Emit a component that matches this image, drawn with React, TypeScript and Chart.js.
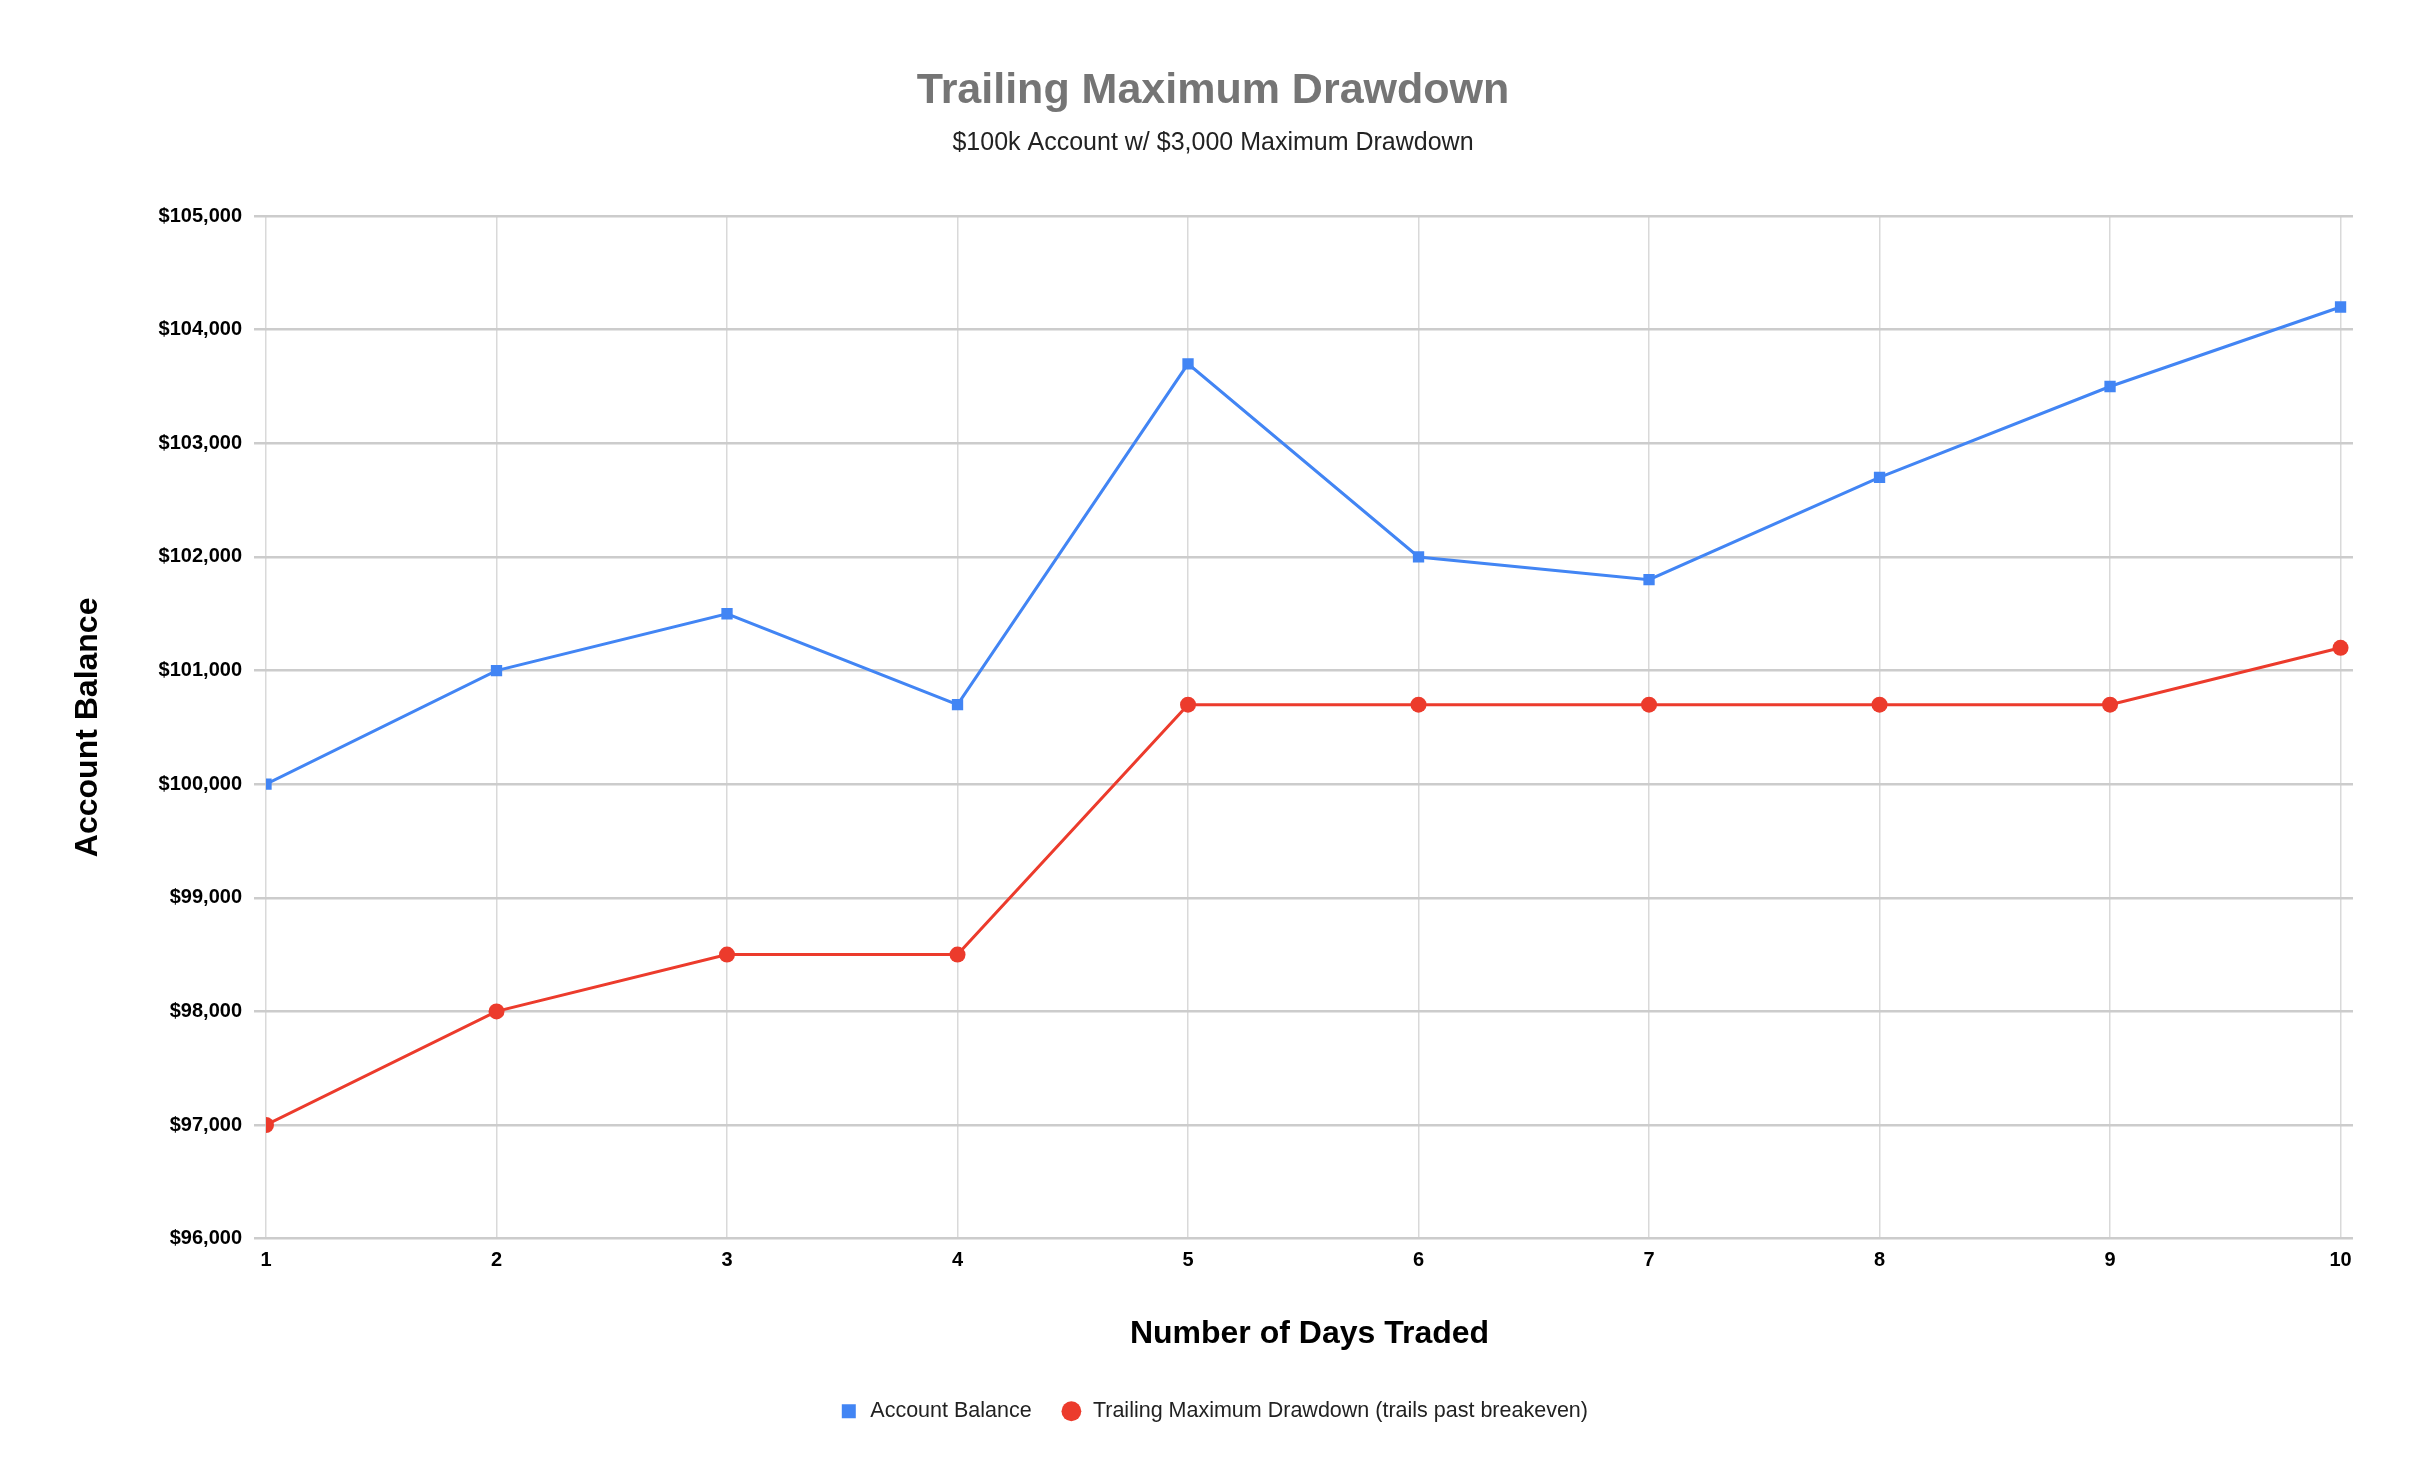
import React, { useEffect, useRef } from 'react';
import { Chart, registerables } from 'chart.js';

Chart.register(...registerables);

const days = [1, 2, 3, 4, 5, 6, 7, 8, 9, 10];
const accountBalance = [100000, 101000, 101500, 100700, 103700, 102000, 101800, 102700, 103500, 104200];
const trailingDrawdown = [97000, 98000, 98500, 98500, 100700, 100700, 100700, 100700, 100700, 101200];
const yTicks = [96000, 97000, 98000, 99000, 100000, 101000, 102000, 103000, 104000, 105000];

const FONT = '"Liberation Sans", Arial, Helvetica, sans-serif';

const App: React.FC = () => {
  const chartRef = useRef<HTMLCanvasElement>(null);
  const chartInstance = useRef<Chart | null>(null);

  useEffect(() => {
    if (!chartRef.current) return;
    if (chartInstance.current) chartInstance.current.destroy();

    const ctx = chartRef.current.getContext('2d');
    if (!ctx) return;

    Chart.defaults.font.family = FONT;

    chartInstance.current = new Chart(ctx, {
      type: 'line',
      data: {
        datasets: [
          {
            label: 'Account Balance',
            data: days.map((d, i) => ({ x: d, y: accountBalance[i] })),
            borderColor: '#4285f4',
            backgroundColor: '#4285f4',
            borderWidth: 3,
            pointStyle: 'rect',
            pointRadius: 8,
            pointBorderWidth: 0,
            tension: 0,
          },
          {
            label: 'Trailing Maximum Drawdown (trails past breakeven)',
            data: days.map((d, i) => ({ x: d, y: trailingDrawdown[i] })),
            borderColor: '#ec3b2c',
            backgroundColor: '#ec3b2c',
            borderWidth: 3,
            pointStyle: 'circle',
            pointRadius: 8,
            pointBorderWidth: 0,
            tension: 0,
          },
        ],
      },
      options: {
        animation: false,
        responsive: true,
        maintainAspectRatio: false,
        layout: {
          padding: { top: 0, left: 0, right: 0, bottom: 26 },
        },
        plugins: {
          title: {
            display: true,
            text: 'Trailing Maximum Drawdown',
            color: '#757575',
            font: { size: 43, weight: 'bold', family: FONT },
            padding: { top: 65, bottom: 0 },
          },
          subtitle: {
            display: true,
            text: '$100k Account w/ $3,000 Maximum Drawdown',
            color: '#222222',
            font: { size: 25, family: FONT },
            padding: { top: 12, bottom: 57.5 },
          },
          legend: {
            position: 'bottom',
            labels: {
              usePointStyle: true,
              boxWidth: 22,
              boxHeight: 14,
              padding: 29,
              color: '#222222',
              font: { size: 21.5, family: FONT },
            },
          },
          tooltip: { enabled: false },
        },
        scales: {
          x: {
            type: 'linear',
            min: 1,
            max: 10.054,
            afterBuildTicks: (scale: any) => {
              scale.ticks = days.map((v) => ({ value: v }));
            },
            grid: {
              color: '#d9d9d9',
              lineWidth: 1.5,
              drawTicks: false,
            },
            border: { display: false },
            ticks: {
              autoSkip: false,
              maxRotation: 0,
              padding: 10,
              color: '#000000',
              font: { size: 20, weight: 'bold', family: FONT },
              callback: (v: any) => String(v),
            },
            title: {
              display: true,
              text: 'Number of Days Traded',
              color: '#000000',
              font: { size: 32, weight: 'bold', family: FONT },
              padding: { top: 32, bottom: 18.5 },
            },
          },
          y: {
            type: 'linear',
            min: yTicks[0],
            max: yTicks[yTicks.length - 1],
            afterBuildTicks: (scale: any) => {
              scale.ticks = yTicks.map((v) => ({ value: v }));
            },
            afterFit: (scale: any) => {
              scale.width = 266;
            },
            grid: {
              color: '#cccccc',
              lineWidth: 2.5,
              drawTicks: true,
              tickLength: 12,
            },
            border: { display: false },
            ticks: {
              padding: 12,
              color: '#000000',
              font: { size: 20, weight: 'bold', family: FONT },
              callback: (v: any) => '$' + Number(v).toLocaleString('en-US'),
            },
            title: {
              display: true,
              text: 'Account Balance',
              color: '#000000',
              font: { size: 32, weight: 'bold', family: FONT },
              padding: { top: 69, bottom: 0 },
            },
          },
          // empty right-hand axis that only reserves the right margin
          yRight: {
            type: 'linear',
            position: 'right',
            display: true,
            grid: { display: false },
            ticks: { display: false },
            border: { display: false },
            afterFit: (scale: any) => {
              scale.width = 73;
            },
          },
        },
      },
    });

    return () => {
      if (chartInstance.current) {
        chartInstance.current.destroy();
        chartInstance.current = null;
      }
    };
  }, []);

  return (
    <div style={{ position: 'fixed', top: 0, left: 0, width: '100vw', height: '100vh', background: '#ffffff' }}>
      <canvas ref={chartRef}></canvas>
    </div>
  );
};

export default App;
